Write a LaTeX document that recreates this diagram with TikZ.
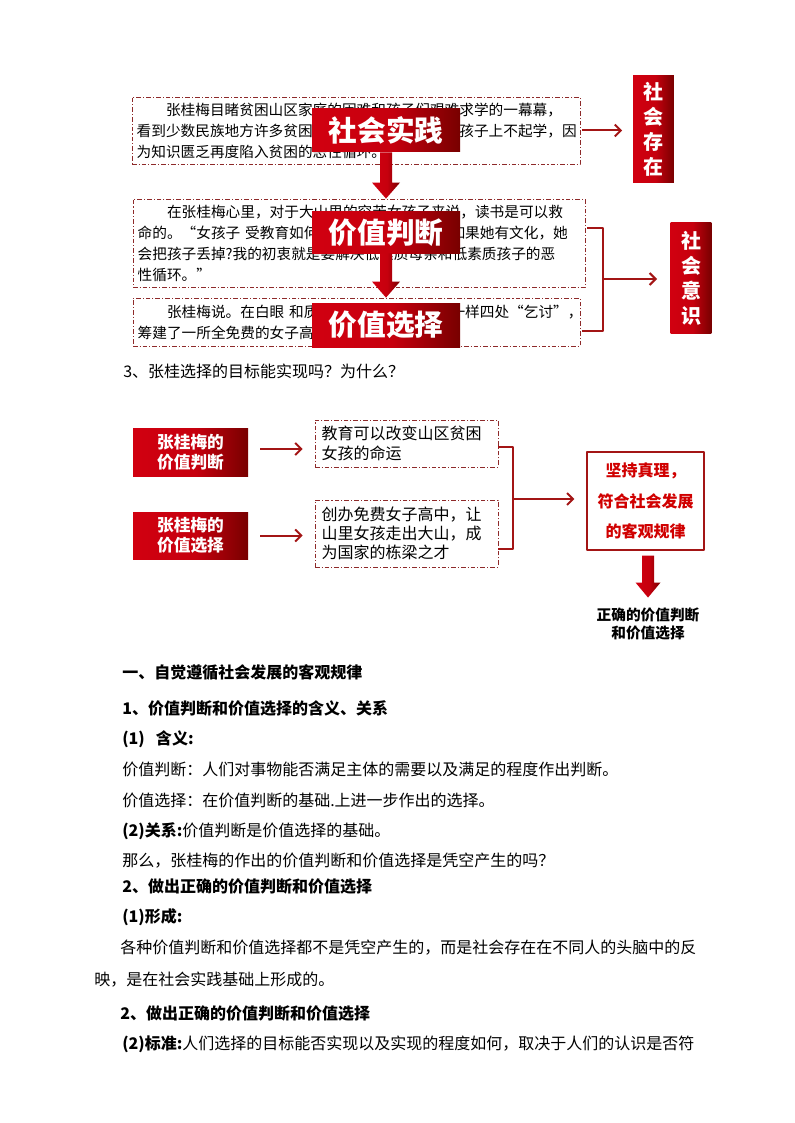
\documentclass[tikz,border=0pt]{standalone}
\usepackage{fontspec}
\setmainfont{Noto Sans CJK SC}
\usetikzlibrary{calc,positioning,arrows.meta}

\definecolor{labred}{HTML}{D10010}
\definecolor{labdark}{HTML}{780000}
\definecolor{linered}{HTML}{A31515}
\definecolor{dashred}{HTML}{8E2A2A}
\definecolor{textred}{HTML}{D00000}

\pgfdeclarehorizontalshading{labshade}{100bp}{color(0bp)=(labred); color(25bp)=(labred); color(52bp)=(labred!88!labdark); color(75bp)=(labdark); color(100bp)=(labdark)}

\tikzset{
  txtbox/.style={draw=dashred, line width=0.6pt, dash pattern=on 3.5pt off 1.5pt on 0.8pt off 1.5pt,
    inner xsep=3.5pt, inner ysep=0pt, align=left, font=\fontsize{11}{15.75}\selectfont},
  qbox/.style={txtbox, inner xsep=5pt, text width=127.25pt, font=\fontsize{12}{14.5}\selectfont},
  biglabel/.style={shading=labshade, minimum width=111pt, minimum height=31.5pt, inner sep=0pt,
    text=white, font=\fontsize{21.5}{24}\selectfont\bfseries},
  vlabel/.style={shading=labshade, minimum width=30.5pt, inner sep=0pt, text=white, align=center,
    font=\fontsize{15}{18.75}\selectfont\bfseries},
  smlabel/.style={shading=labshade, minimum width=86.25pt, inner sep=0pt, text=white, align=center,
    font=\fontsize{12.5}{15}\selectfont\bfseries},
  resbox/.style={draw=linered, line width=0.8pt, fill=white, minimum width=87.75pt, minimum height=73.5pt,
    inner sep=0pt, text=textred, align=center, font=\fontsize{12}{23}\selectfont\bfseries},
  conn/.style={draw=linered, line width=1.5pt, -{Straight Barb[length=4.5pt,width=9pt]}},
  bracket/.style={draw=linered, line width=1.5pt},
  body/.style={anchor=west, inner sep=0pt, font=\fontsize{12}{15}\selectfont},
}

\begin{document}
\begin{tikzpicture}[x=0.75pt, y=-0.75pt, line join=round]
  \useasboundingbox (0,0) rectangle (794,1123);

  % story boxes
  \node[txtbox, text width=329pt, minimum height=50.25pt] (b1) at (356,130.5)
    {\hspace*{2em}张桂梅目睹贫困山区家庭的困难和孩子们艰难求学的一幕幕，\\
     看到少数民族地方许多贫困家庭的孩子，特别是女孩子上不起学，因\\
     为知识匮乏再度陷入贫困的恶性循环。};
  \node[txtbox, text width=332pt, minimum height=66pt] (b2) at (359,243)
    {\hspace*{2em}在张桂梅心里，对于大山里的穷苦女孩子来说，读书是可以救\\
     命的。“女孩子~受教育如何改变三代人的命运？如果她有文化，她\\
     会把孩子丢掉?我的初衷就是要解决低素质母亲和低素质孩子的恶\\
     性循环。”};
  \node[txtbox, text width=328.25pt, minimum height=36pt] (b3) at (356.5,322)
    {\hspace*{2em}张桂梅说。在白眼~和质疑声中，她像祥林嫂一样四处“乞讨”，\\
     筹建了一所全免费的女子高中。};

  \node[biglabel, minimum height=32.25pt] (sj) at (386,130.5) {社会实践};
  \node[biglabel, minimum height=30.75pt] (pd) at (386,232.5) {价值判断};
  \node[biglabel, minimum height=33pt] (xz) at (386,325) {价值选择};

  \coordinate (t1) at (sj.south |- b2.north);
  \coordinate (t2) at (pd.south |- b3.north);
  \shade[shading=labshade] ($(sj.south)+(-6,0)$) -- ($(t1)+(-6,-16)$) -- ($(t1)+(-14,-16)$) -- (t1)
    -- ($(t1)+(14,-16)$) -- ($(t1)+(6,-16)$) -- ($(sj.south)+(6,0)$) -- cycle;
  \shade[shading=labshade] ($(pd.south)+(-6,0)$) -- ($(t2)+(-6,-16)$) -- ($(t2)+(-14,-16)$) -- (t2)
    -- ($(t2)+(14,-16)$) -- ($(t2)+(6,-16)$) -- ($(pd.south)+(6,0)$) -- cycle;

  \node[vlabel, minimum height=80.25pt] (sc) at (653.5,129.5) {社\\会\\存\\在};
  \node[vlabel, minimum height=82.5pt] (sy) at (691,278) {社\\会\\意\\识};

  \draw[conn, shorten <=1.5pt, shorten >=8pt] (b1.east) -- (b1.east -| sc.west);
  \draw[bracket] ($(b2.east)+(2,-15)$) -| ($(b3.east)+(23,9)$) -- ($(b3.east)+(2,9)$);
  \coordinate (k1) at ($(b3.east)+(23,-43)$);
  \draw[conn, shorten >=10pt] (k1) -- (k1 -| sy.west);

  \node[body] (q3) at (123,371) {3、张桂选择的目标能实现吗？为什么？};

  % judgement and choice
  \node[smlabel, minimum height=36pt] (l1) at (190.5,452) {张桂梅的\\价值判断};
  \node[smlabel, minimum height=35.25pt] (l2) at (190.5,535.5) {张桂梅的\\价值选择};
  \node[qbox, minimum height=35.25pt] (d1) at (406.5,443.5) {教育可以改变山区贫困\\女孩的命运};
  \node[qbox, minimum height=50.25pt] (d2) at (406.5,533.5)
    {创办免费女子高中，让\\山里女孩走出大山，成\\为国家的栋梁之才};
  \draw[conn, shorten <=9pt, shorten >=9pt] ($(l1.east)+(0,-3)$) -- ($(l1.east -| d1.west)+(0,-3)$);
  \draw[conn, shorten <=9pt, shorten >=9pt] (l2.east) -- (l2.east -| d2.west);

  \draw[bracket] ($(d1.east)+(0,3.5)$) -| ($(d2.east)+(15,15.5)$) -- ($(d2.east)+(0,15.5)$);
  \coordinate (k2) at ($(d2.east)+(15,-34.5)$);
  \node[resbox] (r) at (645.5,501) {坚持真理，\\符合社会发展\\的客观规律};
  \draw[conn, shorten >=9pt] (k2) -- (k2 -| r.west);

  \coordinate (a3) at ($(r.south)+(2.5,5)$);
  \coordinate (t3) at ($(r.south)+(2.5,47)$);
  \shade[shading=labshade] ($(a3)+(-6,0)$) -- ($(t3)+(-6,-15)$) -- ($(t3)+(-12.5,-15)$) -- (t3)
    -- ($(t3)+(12.5,-15)$) -- ($(t3)+(6,-15)$) -- ($(a3)+(6,0)$) -- cycle;
  \node[align=center, inner sep=0pt, font=\fontsize{11}{13.5}\selectfont\bfseries] (cap) at (648,624)
    {正确的价值判断\\和价值选择};

  % notes
  \node[body, font=\fontsize{12}{15}\selectfont\bfseries] (n1) at (122,672) {一、自觉遵循社会发展的客观规律};
  \node[body, font=\fontsize{12}{15}\selectfont\bfseries] (n2) at (122,708) {1、价值判断和价值选择的含义、关系};
  \node[body, font=\fontsize{12}{15}\selectfont\bfseries] (n3) at (122,739) {(1)\hspace{0.7em}含义:};
  \node[body] (n4) at (122,769) {价值判断：人们对事物能否满足主体的需要以及满足的程度作出判断。};
  \node[body] (n5) at (122,800) {价值选择：在价值判断的基础.上进一步作出的选择。};
  \node[body] (n6) at (122,831) {{\bfseries (2)关系:}价值判断是价值选择的基础。};
  \node[body] (n7) at (122,861) {那么，张桂梅的作出的价值判断和价值选择是凭空产生的吗？};
  \node[body, font=\fontsize{12}{15}\selectfont\bfseries] (n8) at (122,886) {2、做出正确的价值判断和价值选择};
  \node[body, font=\fontsize{12}{15}\selectfont\bfseries] (n9) at (122,917) {(1)形成:};
  \node[body] (n10) at (120,948) {各种价值判断和价值选择都不是凭空产生的，而是社会存在在不同人的头脑中的反};
  \node[body] (n11) at (94,980) {映，是在社会实践基础上形成的。};
  \node[body, font=\fontsize{12}{15}\selectfont\bfseries] (n12) at (120,1013) {2、做出正确的价值判断和价值选择};
  \node[body] (n13) at (122,1044) {{\bfseries (2)标准:}人们选择的目标能否实现以及实现的程度如何，取决于人们的认识是否符};
\end{tikzpicture}
\end{document}
